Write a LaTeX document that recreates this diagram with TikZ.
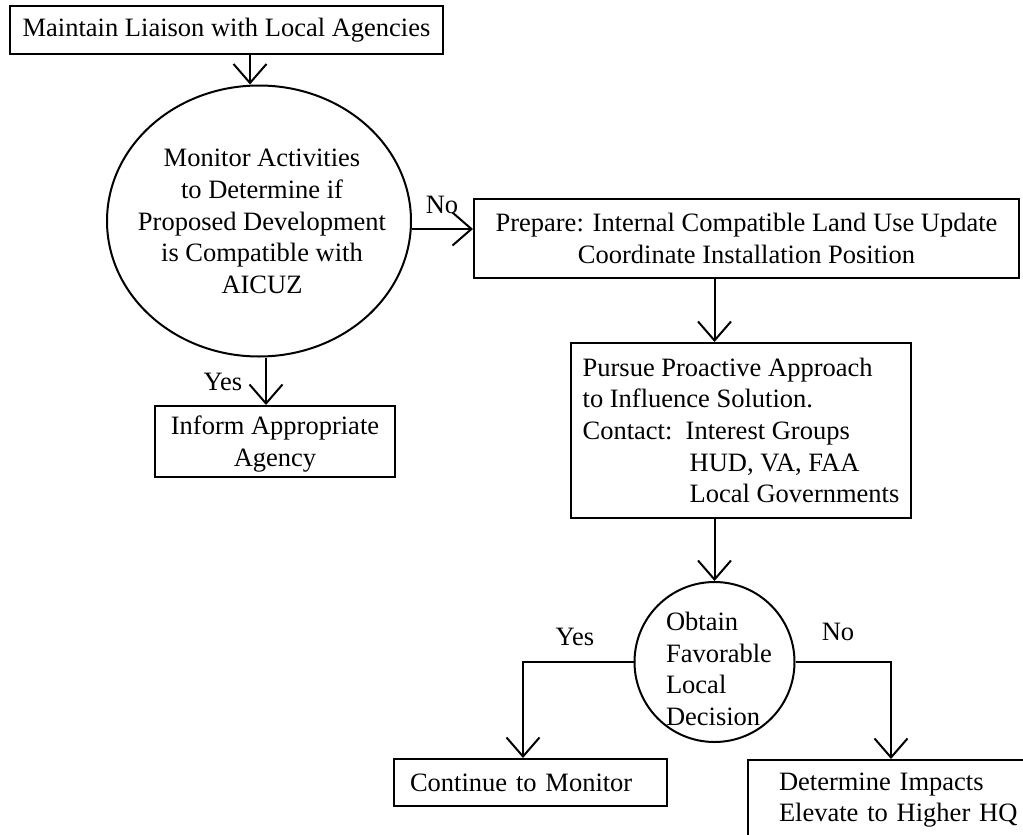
\documentclass[tikz,border=0pt]{standalone}
\usepackage{fontspec}
\setmainfont{Liberation Serif}
\usetikzlibrary{arrows.meta,positioning,calc,shapes.geometric}

\begin{document}
\begin{tikzpicture}[x=1pt,y=-1pt,
  every node/.style={font=\fontsize{26.5}{31.7}\selectfont},
  box/.style={draw,line width=2pt,inner sep=0pt},
  arr/.style={-{Straight Barb[length=19pt,width=33pt]},line width=2pt},
  lbl/.style={inner sep=0pt}]
  \useasboundingbox (0,0) rectangle (1023,835);
  \clip (0,0) rectangle (1023,835);

  \node[box,minimum width=433,minimum height=48] (maintain) at (226.5,30) {Maintain Liaison with Local Agencies};
  \node[draw,line width=2pt,ellipse,minimum width=304,minimum height=271,inner sep=0pt] (monitor) at (259,221) {};
  \node[align=center,inner sep=0pt] (monitortxt) at (262,221.5) {Monitor Activities\\to Determine if\\Proposed Development\\is Compatible with\\AICUZ};
  \node[box,minimum width=240,minimum height=71,text depth=0pt,align=center] (inform) at (275,441.5) {Inform Appropriate\\Agency};
  \node[box,minimum width=545,minimum height=79,align=center] (prepare) at (746.5,238.5) {Prepare: Internal Compatible Land Use Update\\Coordinate Installation Position};
  \node[box,minimum width=340,minimum height=175,align=left] (pursue) at (741,430.5) {Pursue Proactive Approach\\to Influence Solution.\\Contact:\ \ Interest Groups\\\hspace*{107pt}HUD, VA, FAA\\\hspace*{107pt}Local Governments};
  \node[draw,line width=2pt,circle,minimum size=160,inner sep=0pt] (decide) at (714.5,662) {};
  \node[align=left,inner sep=0pt] (decidetxt) at (719,669) {Obtain\\Favorable\\Local\\Decision};
  \node[box,minimum height=47,text width=241,inner xsep=16pt,align=left] (keep) at (530.5,782.5) {Continue to Monitor};
  \node[box,anchor=north west,minimum height=80,text width=240,inner xsep=31pt,align=left] (elevate) at (747,759) {Determine Impacts\\Elevate to Higher HQ};

  \node[lbl] (nolbl) at (442,205) {No};
  \node[lbl] (yeslbl) at (223,382) {Yes};
  \node[lbl] (yeslbl2) at (575,637) {Yes};
  \node[lbl] (nolbl2) at (838,632) {No};

  \draw[arr] ([xshift=-9pt]monitor.north |- maintain.south) -- ([xshift=-9pt]monitor.north);
  \draw[arr] ([xshift=7pt]monitor.south) -- ([xshift=7pt]monitor.south |- inform.north);
  \draw[arr] ([yshift=-8pt]monitor.east) -- ([yshift=-8pt]monitor.east -| prepare.west);
  \draw[arr] (prepare.south -| decide.north) -- (pursue.north -| decide.north);
  \draw[arr] (pursue.south -| decide.north) -- (decide.north);
  \draw[arr] (decide.west) -| ([xshift=-7.5pt]keep.north);
  \draw[arr] (decide.east) -| ([xshift=-8pt]elevate.north);
\end{tikzpicture}
\end{document}
